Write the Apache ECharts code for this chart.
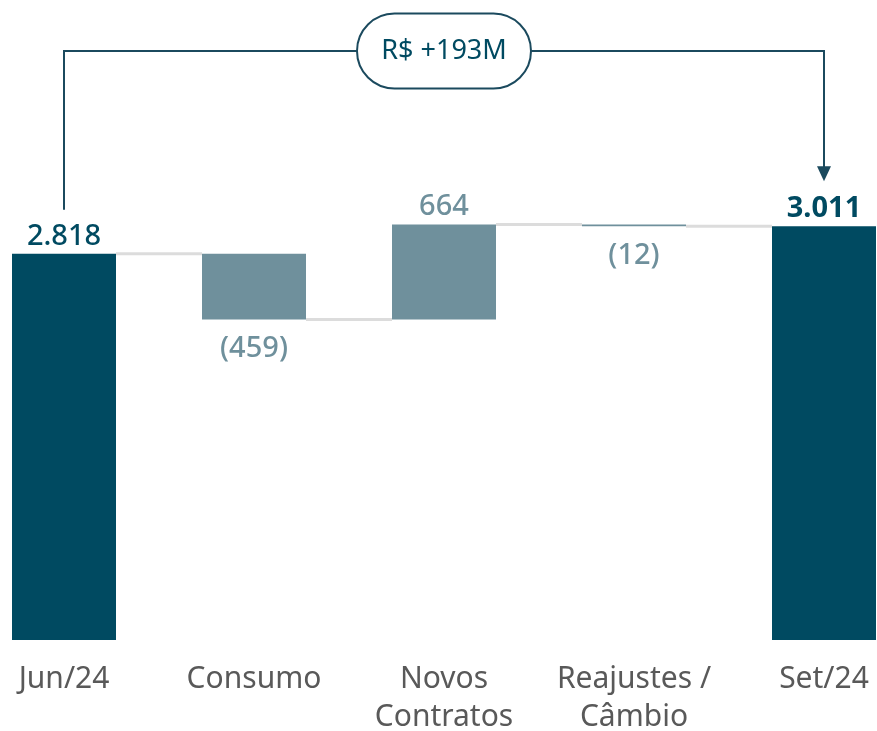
<!DOCTYPE html>
<html>
<head>
<meta charset="utf-8">
<script src="https://cdn.jsdelivr.net/npm/echarts@6/dist/echarts.min.js"></script>
<style>
  html, body { margin: 0; padding: 0; background: #fff; }
  #main { width: 877px; height: 731px; }
</style>
</head>
<body>
<div id="main"></div>
<script>
// waterfall data (R$ milhões)
const categories = ['Jun/24', 'Consumo', 'Novos\nContratos', 'Reajustes /\nCâmbio', 'Set/24'];
const values = [2818, -459, 664, -12, 3011];
const isTotal = [true, false, false, false, true];

const DARK = '#004a61';
const MUTED = '#6f909c';
const FONT = 'Noto Sans';

function fmt(n) {
  return String(Math.abs(n)).replace(/\B(?=(\d{3})+(?!\d))/g, '.');
}

// build invisible base + visible part of every bar
let running = 0;
const baseData = [], barData = [], levels = [];
values.forEach(function (v, i) {
  let lo, hi;
  if (isTotal[i]) {
    lo = 0; hi = v; running = v;
  } else {
    lo = Math.min(running, running + v);
    hi = Math.max(running, running + v);
    running += v;
  }
  baseData.push(lo);
  const neg = !isTotal[i] && v < 0;
  barData.push({
    value: hi - lo,
    itemStyle: { color: isTotal[i] ? DARK : MUTED },
    label: {
      show: true,
      position: neg ? 'bottom' : 'top',
      distance: neg ? 15 : 3,
      formatter: neg ? '(' + fmt(v) + ')' : fmt(v),
      color: isTotal[i] ? DARK : MUTED,
      fontWeight: i === values.length - 1 ? 'bold' : 500,
      fontSize: 29,
      fontFamily: FONT
    }
  });
  levels.push(running);
});

// connector segments between neighbouring bars
const connectors = [];
for (let i = 0; i < values.length - 1; i++) connectors.push([i, levels[i]]);

const BAR_W = 104;
const chart = echarts.init(document.getElementById('main'));
chart.setOption({
  animation: false,
  grid: { left: -31, right: -42, top: 159, bottom: 91, outerBoundsMode: 'none', containLabel: false },
  xAxis: {
    type: 'category',
    data: categories,
    axisLine: { show: false },
    axisTick: { show: false },
    axisLabel: {
      color: '#595959', fontSize: 30, fontFamily: FONT,
      lineHeight: 38, margin: 20, interval: 0
    }
  },
  yAxis: { type: 'value', min: 120, max: 3480, show: false, splitLine: { show: false } },
  series: [
    {
      type: 'custom',
      z: 1,
      data: connectors,
      renderItem: function (params, api) {
        const p1 = api.coord([api.value(0), api.value(1)]);
        const p2 = api.coord([api.value(0) + 1, api.value(1)]);
        return {
          type: 'line',
          shape: { x1: p1[0] + BAR_W / 2, y1: p1[1], x2: p2[0] - BAR_W / 2, y2: p2[1] },
          style: { stroke: '#dcdcdc', lineWidth: 3 }
        };
      }
    },
    {
      type: 'bar', stack: 'w', barWidth: BAR_W,
      itemStyle: { color: 'transparent' },
      data: baseData, silent: true
    },
    {
      type: 'bar', stack: 'w', barWidth: BAR_W, z: 3,
      data: barData
    }
  ]
});

// bracket annotation from first total to last total
const last = values.length - 1;
const x0 = chart.convertToPixel({ xAxisIndex: 0 }, 0);
const x1 = chart.convertToPixel({ xAxisIndex: 0 }, last);
const yTop0 = chart.convertToPixel({ yAxisIndex: 0 }, values[0]);
const yTop1 = chart.convertToPixel({ yAxisIndex: 0 }, values[last]);
const yLine = 51;
const cx = (x0 + x1) / 2;
const pillW = 174, pillH = 75;
const delta = values[last] - values[0];
const stroke = { stroke: '#1b4a5e', lineWidth: 2, fill: null };

chart.setOption({
  graphic: [
    { type: 'polyline', shape: { points: [[x0, yTop0 - 44], [x0, yLine], [cx - pillW / 2, yLine]] }, style: stroke },
    { type: 'polyline', shape: { points: [[cx + pillW / 2, yLine], [x1, yLine], [x1, yTop1 - 58]] }, style: stroke },
    { type: 'polygon', shape: { points: [[x1 - 7, yTop1 - 60], [x1 + 7, yTop1 - 60], [x1, yTop1 - 45]] }, style: { fill: '#1b4a5e' } },
    {
      type: 'rect',
      shape: { x: cx - pillW / 2, y: yLine - pillH / 2, width: pillW, height: pillH, r: pillH / 2 },
      style: { fill: '#fff', stroke: '#1b4a5e', lineWidth: 2 }
    },
    {
      type: 'text', x: cx, y: yLine,
      style: {
        text: 'R$ +' + fmt(delta) + 'M', fill: DARK, font: '27px "' + FONT + '"',
        align: 'center', verticalAlign: 'middle'
      }
    }
  ]
});
</script>
</body>
</html>
